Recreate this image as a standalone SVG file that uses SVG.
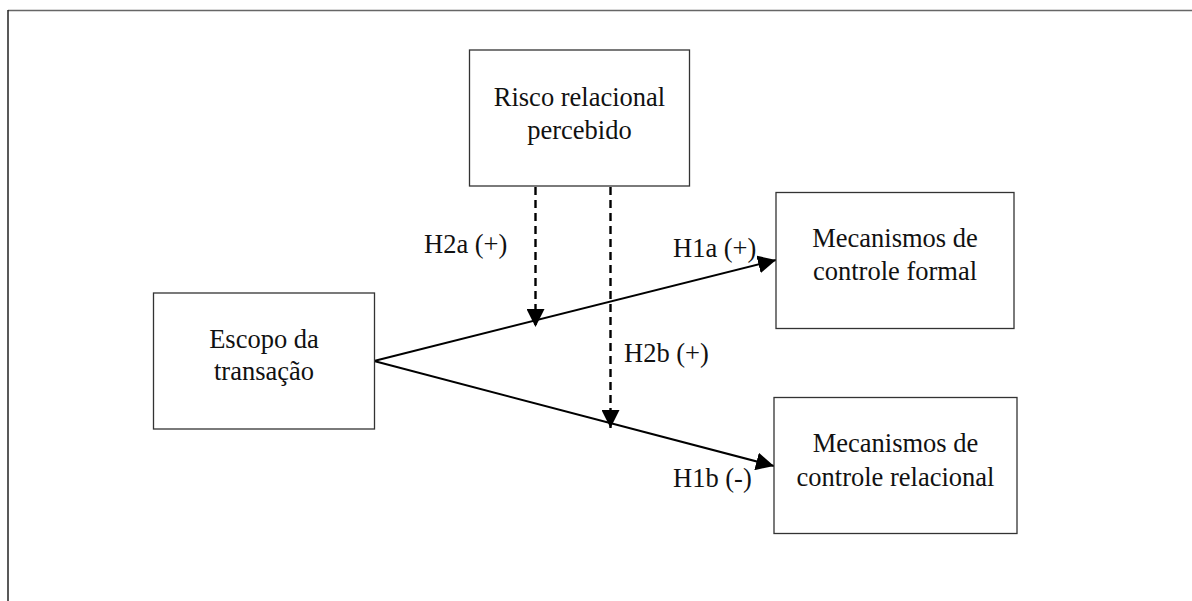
<svg xmlns="http://www.w3.org/2000/svg" width="1192" height="601" viewBox="0 0 1192 601">
<style>
.box{fill:#fff;stroke:#333;stroke-width:1.3}
.t{font-family:"Liberation Serif","Times New Roman",serif;font-size:26.5px;fill:#111;text-anchor:middle}
.lbl{font-family:"Liberation Serif","Times New Roman",serif;font-size:26.5px;fill:#111}
.edge{stroke:#000;stroke-width:2;fill:none}
.dash{stroke:#000;stroke-width:2.4;fill:none;stroke-dasharray:8 5}
</style>
<defs>
<marker id="ah" markerUnits="userSpaceOnUse" markerWidth="18" markerHeight="18" viewBox="0 0 16 16" refX="16" refY="8" orient="auto">
<path d="M0,0 L16,8 L0,16 Z" fill="#000"/>
</marker>
</defs>
<g id="frame">
<line x1="8" y1="10.5" x2="1192" y2="10.5" stroke="#666" stroke-width="1.5"/>
<line x1="8" y1="10" x2="8" y2="601" stroke="#222" stroke-width="1.5"/>
</g>
<g id="connectors">
<line class="edge" x1="374" y1="361" x2="776" y2="260" marker-end="url(#ah)"/>
<line class="edge" x1="374" y1="361" x2="774" y2="466" marker-end="url(#ah)"/>
<line class="dash" x1="535.5" y1="187" x2="535.5" y2="327" marker-end="url(#ah)"/>
<line class="dash" x1="610.5" y1="187" x2="610.5" y2="428" marker-end="url(#ah)"/>
<text class="lbl" x="424" y="253">H2a (+)</text>
<text class="lbl" x="673" y="257">H1a (+)</text>
<text class="lbl" x="624" y="362">H2b (+)</text>
<text class="lbl" x="673" y="487">H1b (-)</text>
</g>
<g id="risco">
<rect class="box" x="469.5" y="50" width="220" height="136"/>
<text class="t" x="579.5" y="106">Risco relacional</text>
<text class="t" x="579.5" y="139">percebido</text>
</g>
<g id="escopo">
<rect class="box" x="153.5" y="293" width="221" height="136"/>
<text class="t" x="264" y="348">Escopo da</text>
<text class="t" x="264" y="380">transação</text>
</g>
<g id="formal">
<rect class="box" x="776" y="192.5" width="238" height="136"/>
<text class="t" x="895" y="247">Mecanismos de</text>
<text class="t" x="895" y="280">controle formal</text>
</g>
<g id="relacional">
<rect class="box" x="774" y="397.5" width="243" height="136"/>
<text class="t" x="895.5" y="452">Mecanismos de</text>
<text class="t" x="895.5" y="486">controle relacional</text>
</g>
</svg>
